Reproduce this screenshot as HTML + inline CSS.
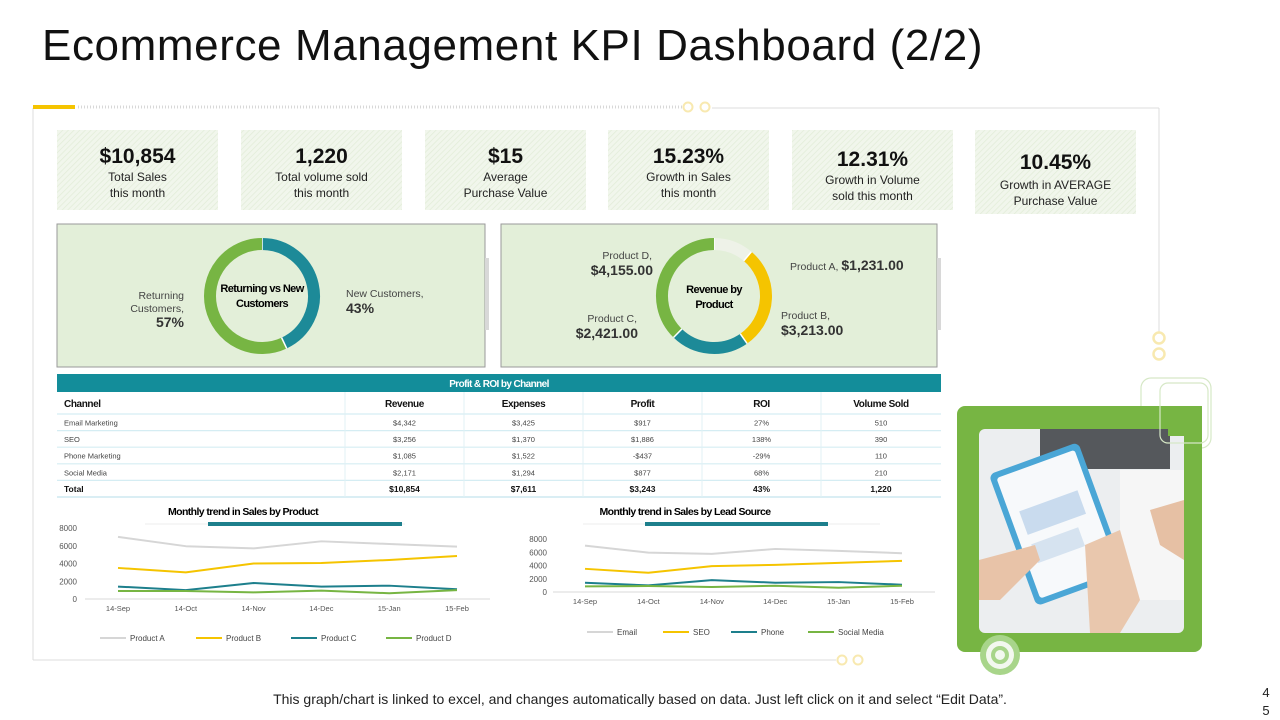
<!DOCTYPE html>
<html><head><meta charset="utf-8"><style>
html,body{margin:0;padding:0;background:#fff;}
svg{display:block;font-family:"Liberation Sans",sans-serif;}
</style></head><body>
<svg id="page" width="1280" height="720" viewBox="0 0 1280 720" xmlns="http://www.w3.org/2000/svg">
<defs>
<pattern id="hatch" width="4" height="4" patternUnits="userSpaceOnUse" patternTransform="rotate(45)">
<rect width="4" height="4" fill="#f1f6ec"/><line x1="0" y1="0" x2="0" y2="4" stroke="#e2ecd8" stroke-width="1.5"/></pattern>
</defs>
<text x="42" y="60" font-size="44" letter-spacing="0.6" fill="#111">Ecommerce Management KPI Dashboard (2/2)</text>

<g>
<line x1="33" y1="108" x2="33" y2="660" stroke="#dcdcdc" stroke-width="1"/>
<line x1="33" y1="660" x2="836" y2="660" stroke="#dcdcdc" stroke-width="1"/>
<line x1="712" y1="108" x2="1159" y2="108" stroke="#dcdcdc" stroke-width="1"/>
<line x1="1159" y1="108" x2="1159" y2="332" stroke="#dcdcdc" stroke-width="1"/>
<rect x="33" y="105" width="42" height="4" fill="#f5c400"/>
<line x1="78" y1="107" x2="682" y2="107" stroke="#d8d8d8" stroke-width="3" stroke-dasharray="1 2"/>
<circle cx="688" cy="107" r="4.5" fill="none" stroke="#f8e9b0" stroke-width="2"/>
<circle cx="705" cy="107" r="4.5" fill="none" stroke="#f8e9b0" stroke-width="2"/>
<circle cx="1159" cy="338" r="5.5" fill="#fff" stroke="#f8e9b0" stroke-width="2.5"/>
<circle cx="1159" cy="354" r="5.5" fill="#fff" stroke="#f8e9b0" stroke-width="2.5"/>
<circle cx="842" cy="660" r="4.5" fill="#fff" stroke="#f8e9b0" stroke-width="2"/>
<circle cx="858" cy="660" r="4.5" fill="#fff" stroke="#f8e9b0" stroke-width="2"/>
</g>

<g id="kpis"></g>

<g>
<rect x="57" y="224" width="428" height="143" fill="#e3efd9" stroke="#9a9a9a" stroke-width="1"/>
<rect x="485" y="258" width="4" height="72" fill="#d8d8d8"/>
<g id="donut1"></g>
<text x="262" y="292" text-anchor="middle" font-size="11" font-weight="bold" letter-spacing="-0.6">Returning vs New</text>
<text x="262" y="307" text-anchor="middle" font-size="11" font-weight="bold" letter-spacing="-0.6">Customers</text>
<text x="184" y="299" text-anchor="end" font-size="10.5" fill="#444">Returning</text>
<text x="184" y="312" text-anchor="end" font-size="10.5" fill="#444">Customers,</text>
<text x="184" y="327" text-anchor="end" font-size="14" font-weight="bold" fill="#333">57%</text>
<text x="346" y="297" font-size="10.5" fill="#444">New Customers,</text>
<text x="346" y="313" font-size="14" font-weight="bold" fill="#333">43%</text>
</g>

<g>
<rect x="501" y="224" width="436" height="143" fill="#e3efd9" stroke="#9a9a9a" stroke-width="1"/>
<rect x="937" y="258" width="4" height="72" fill="#d8d8d8"/>
<g id="donut2"></g>
<text x="714" y="293" text-anchor="middle" font-size="11" font-weight="bold" letter-spacing="-0.6">Revenue by</text>
<text x="714" y="308" text-anchor="middle" font-size="11" font-weight="bold" letter-spacing="-0.6">Product</text>
<text x="652" y="259" text-anchor="end" font-size="10.5" fill="#444">Product D,</text>
<text x="653" y="275" text-anchor="end" font-size="14" font-weight="bold" fill="#333">$4,155.00</text>
<text x="790" y="270" font-size="10.5" fill="#444">Product A, <tspan font-size="14" font-weight="bold" fill="#333">$1,231.00</tspan></text>
<text x="637" y="322" text-anchor="end" font-size="10.5" fill="#444">Product C,</text>
<text x="638" y="338" text-anchor="end" font-size="14" font-weight="bold" fill="#333">$2,421.00</text>
<text x="781" y="319" font-size="10.5" fill="#444">Product B,</text>
<text x="781" y="335" font-size="14" font-weight="bold" fill="#333">$3,213.00</text>
</g>

<g id="table">
<rect x="57" y="374" width="884" height="18" fill="#138d9a"/>
<text x="499" y="387" text-anchor="middle" font-size="10" font-weight="bold" fill="#fff" letter-spacing="-0.6">Profit &amp; ROI by Channel</text>
</g>

<g id="chart1">
<text x="243" y="515" text-anchor="middle" font-size="10.5" font-weight="bold" letter-spacing="-0.6">Monthly trend in Sales by Product</text>
<line x1="145" y1="524" x2="405" y2="524" stroke="#eee" stroke-width="1"/>
<rect x="208" y="522" width="194" height="4" fill="#1d7f8c"/>
</g>
<g id="chart2">
<text x="685" y="515" text-anchor="middle" font-size="10.5" font-weight="bold" letter-spacing="-0.6">Monthly trend in Sales by Lead Source</text>
<line x1="583" y1="524" x2="880" y2="524" stroke="#eee" stroke-width="1"/>
<rect x="645" y="522" width="183" height="4" fill="#1d7f8c"/>
</g>

<g>
<rect x="1141" y="378" width="70" height="70" rx="10" fill="none" stroke="#d6e8c6" stroke-width="1.2"/>
<rect x="957" y="406" width="245" height="246" rx="8" fill="#77b543"/>
<rect x="979" y="429" width="205" height="204" rx="6" fill="#eceef0"/>
<rect x="1040" y="429" width="130" height="40" fill="#55585c"/>
<rect x="1120" y="470" width="64" height="130" fill="#f6f6f6"/>
<g transform="rotate(-20 1055 525)">
<rect x="1010" y="455" width="95" height="140" rx="6" fill="#4aa6d6"/>
<rect x="1016" y="461" width="83" height="128" rx="3" fill="#f7f9fb"/>
<rect x="1026" y="500" width="62" height="25" fill="#c9dbee"/>
<rect x="1026" y="535" width="50" height="20" fill="#d6e3f0"/>
</g>
<path d="M979 560 L1035 545 L1040 560 L1000 600 L979 600Z" fill="#e8c3a8"/>
<path d="M1085 545 L1120 530 L1140 600 L1120 633 L1090 633Z" fill="#e9c7ad"/>
<path d="M1150 510 L1184 500 L1184 560 L1160 545Z" fill="#e6c0a4"/>
<rect x="1168" y="406" width="34" height="30" fill="#77b543"/>
<rect x="1160" y="383" width="48" height="60" rx="8" fill="none" stroke="#d6e8c6" stroke-width="1.2"/>
<circle cx="1000" cy="655" r="20" fill="#a8d58a"/>
<circle cx="1000" cy="655" r="14" fill="#f3f8ef"/>
<circle cx="1000" cy="655" r="9" fill="#a8d58a"/>
<circle cx="1000" cy="655" r="5" fill="#f3f8ef"/>
</g>

<text x="640" y="704" text-anchor="middle" font-size="14" fill="#222">This graph/chart is linked to excel, and changes automatically based on data. Just left click on it and select “Edit Data”.</text>
<text x="1266" y="697" text-anchor="middle" font-size="13" fill="#222">4</text>
<text x="1266" y="715" text-anchor="middle" font-size="13" fill="#222">5</text>
</svg>
<script>
var NS="http://www.w3.org/2000/svg";
// KPI data
var kpiValues=["$10,854","1,220","$15","15.23%","12.31%","10.45%"];
var kpiLabels=[["Total Sales","this month"],["Total volume sold","this month"],["Average","Purchase Value"],["Growth in Sales","this month"],["Growth in Volume","sold this month"],["Growth in AVERAGE","Purchase Value"]];
// donut data
var custLabels=["New Customers","Returning Customers"];
var custValues=[43,57];
var prodLabels=["Product A","Product B","Product C","Product D"];
var prodRevenue=[1231,3213,2421,4155];
// table data
var tableCols=["Channel","Revenue","Expenses","Profit","ROI","Volume Sold"];
var tableRows=[["Email Marketing","$4,342","$3,425","$917","27%","510"],["SEO","$3,256","$1,370","$1,886","138%","390"],["Phone Marketing","$1,085","$1,522","-$437","-29%","110"],["Social Media","$2,171","$1,294","$877","68%","210"]];
var tableTotal=["Total","$10,854","$7,611","$3,243","43%","1,220"];
// line chart data
var months=["14-Sep","14-Oct","14-Nov","14-Dec","15-Jan","15-Feb"];
var yTicks=[0,2000,4000,6000,8000];
var productNames=["Product A","Product B","Product C","Product D"];
var productA=[7000,5950,5700,6500,6200,5900];
var productB=[3500,3000,4000,4050,4400,4850];
var productC=[1400,1000,1800,1400,1500,1100];
var productD=[900,900,750,950,650,1000];
var leadNames=["Email","SEO","Phone","Social Media"];
var leadEmail=[7000,5950,5750,6500,6200,5850];
var leadSEO=[3500,2900,3900,4100,4400,4700];
var leadPhone=[1400,1000,1800,1400,1500,1100];
var leadSocial=[850,900,750,950,650,950];
var colors=["#d6d6d6","#f5c400","#1d7f8c","#77b543"];

function mk(tag,attrs,parent,txt){var e=document.createElementNS(NS,tag);for(var k in attrs)e.setAttribute(k,attrs[k]);if(txt!=null)e.textContent=txt;parent.appendChild(e);return e;}

// KPIs
var kg=document.getElementById("kpis");
var kx=[57,241,425,608,792,975];
kpiValues.forEach(function(v,i){
  var off=i>=4?3:0;var h=i==5?84:80;
  var r=mk("rect",{x:kx[i],y:130,width:161,height:h,fill:"url(#hatch)"},kg);
  
  
  var cx=kx[i]+80.5;
  var t=mk("text",{x:cx,y:163+off+(i==5?3:0),"text-anchor":"middle","font-size":21,"font-weight":"bold",fill:"#111"},kg,v);
  
  
  kpiLabels[i].forEach(function(l,j){
    var tl=mk("text",{x:cx,y:181+off+(i==5?5:0)+j*16,"text-anchor":"middle","font-size":12,fill:"#222"},kg,l);
    
    
  });
});

// donuts
function donut(g,cx,cy,vals,cols,names){
  var tot=vals.reduce(function(a,b){return a+b;},0);var a0=-Math.PI/2;var R=52,w=12;
  vals.forEach(function(v,i){
    var a1=a0+v/tot*2*Math.PI;var large=(a1-a0)>Math.PI?1:0;
    var d="M"+(cx+R*Math.cos(a0))+" "+(cy+R*Math.sin(a0))+" A"+R+" "+R+" 0 "+large+" 1 "+(cx+R*Math.cos(a1))+" "+(cy+R*Math.sin(a1));
    var p=mk("path",{d:d,fill:"none",stroke:cols[i],"stroke-width":w},g);
    
    
    var s="M"+(cx+(R-w/2)*Math.cos(a0))+" "+(cy+(R-w/2)*Math.sin(a0))+" L"+(cx+(R+w/2)*Math.cos(a0))+" "+(cy+(R+w/2)*Math.sin(a0));
    mk("path",{d:s,stroke:"#fff","stroke-width":1.5},g);
    a0=a1;
  });
}
donut(document.getElementById("donut1"),262,296,custValues,["#1d8a98","#77b543"],custLabels);
donut(document.getElementById("donut2"),714,296,prodRevenue,["#eef2e8","#f5c400","#1d8a98","#77b543"],prodLabels);

// table
var tg=document.getElementById("table");
var colX=[57,345,464,583,702,821,941];
var hr=mk("rect",{x:57,y:392,width:884,height:22,fill:"#fff"},tg);
tableCols.forEach(function(c,i){
  var x=i==0?64:(colX[i]+colX[i+1])/2;
  var t=mk("text",{x:x,y:407,"text-anchor":i==0?"start":"middle","font-size":10,"font-weight":"bold",fill:"#111","letter-spacing":"-0.4"},tg,c);
  
  
});
var allRows=tableRows.concat([tableTotal]);
allRows.forEach(function(row,r){
  var y=414+r*16.6;
  mk("line",{x1:57,y1:y,x2:941,y2:y,stroke:"#d5edf3","stroke-width":1.2},tg);
  row.forEach(function(c,i){
    var x=i==0?64:(colX[i]+colX[i+1])/2;
    var bold=r==allRows.length-1;
    var t=mk("text",{x:x,y:y+11.5,"text-anchor":i==0?"start":"middle","font-size":bold?8.5:7.5,"font-weight":bold?"bold":"normal",fill:bold?"#111":"#444"},tg,c);
    
    
  });
});
mk("line",{x1:57,y1:497,x2:941,y2:497,stroke:"#cde9f0","stroke-width":1.5},tg);
for(var i=1;i<6;i++) mk("line",{x1:colX[i],y1:392,x2:colX[i],y2:497,stroke:"#e0f1f5","stroke-width":1},tg);

// line charts
function lineChart(g,o,series,names){
  function xs(i){return o.x0+i*o.dx;}
  function ys(v){return o.yb-v/8000*(o.yb-o.yt);}
  yTicks.forEach(function(t){
    var tt=mk("text",{x:o.lx,y:ys(t)+3,"text-anchor":"end","font-size":8,fill:"#555"},g,t);
    
    
  });
  mk("line",{x1:o.ax0,y1:o.yb,x2:o.ax1,y2:o.yb,stroke:"#d9d9d9","stroke-width":1},g);
  months.forEach(function(m,i){
    var t=mk("text",{x:xs(i),y:o.yb+12,"text-anchor":"middle","font-size":7.5,fill:"#555"},g,m);
    
    
  });
  series.forEach(function(s,k){
    var pts=s.map(function(v,i){return xs(i)+","+ys(v);}).join(" ");
    var p=mk("polyline",{points:pts,fill:"none",stroke:colors[k],"stroke-width":2,"stroke-linejoin":"round"},g);
    
    
    var lx=o.legX[k];
    var ll=mk("line",{x1:lx,y1:o.legY,x2:lx+26,y2:o.legY,stroke:colors[k],"stroke-width":2},g);
    
    
    var lt=mk("text",{x:lx+30,y:o.legY+3,"font-size":8,fill:"#444"},g,names[k]);
    
    
  });
}
lineChart(document.getElementById("chart1"),{x0:118,dx:67.8,yb:599,yt:528,lx:77,ax0:85,ax1:490,legY:638,legX:[100,196,291,386]},[productA,productB,productC,productD],productNames);
lineChart(document.getElementById("chart2"),{x0:585,dx:63.4,yb:592,yt:539,lx:547,ax0:553,ax1:935,legY:632,legX:[587,663,731,808]},[leadEmail,leadSEO,leadPhone,leadSocial],leadNames);
</script>
</body></html>
